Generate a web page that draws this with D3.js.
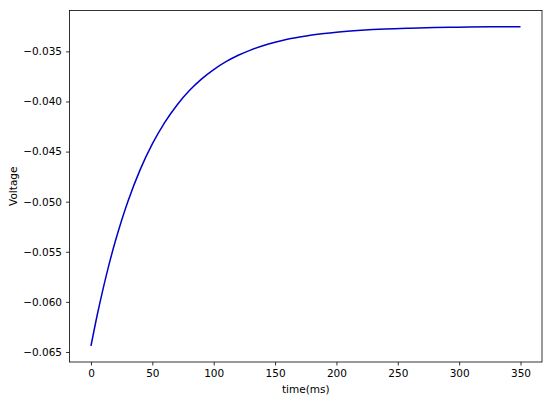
<!DOCTYPE html>
<html>
<head>
<meta charset="utf-8">
<script src="https://cdn.jsdelivr.net/npm/d3@7"></script>
<style>
  body { margin: 0; background: #fff; }
  text { font-family: "DejaVu Sans", sans-serif; fill: #000; }
</style>
</head>
<body>
<script>
// time in ms
var times = [0, 5, 10, 15, 20, 25, 30, 40, 50, 60, 70, 80, 90, 100, 110, 120,
    130, 140, 150, 160, 170, 180, 190, 200, 220, 240, 260, 280, 300, 325, 350]
var voltage = [-0.0644, -0.06136, -0.05862, -0.05613, -0.05388, -0.05185, -0.05001,
    -0.04683, -0.04424, -0.04211, -0.04037, -0.03894, -0.03777, -0.03682, -0.03603,
    -0.03539, -0.03487, -0.03444, -0.03409, -0.0338, -0.03357, -0.03337, -0.03321,
    -0.03308, -0.03289, -0.03276, -0.03268, -0.03262, -0.03258, -0.03255, -0.03253]
var xTicks = [0, 50, 100, 150, 200, 250, 300, 350]
var yTicks = [-0.065, -0.060, -0.055, -0.050, -0.045, -0.040, -0.035]

var width = 550, height = 400
var plotLeft = 69.5, plotRight = 542, plotTop = 10.5, plotBottom = 362

var points = times.map(function (t, i) { return {t: t, v: voltage[i]} })

var x = d3.scaleLinear().domain([-17.5, 367.5]).range([plotLeft, plotRight])
var y = d3.scaleLinear().domain([-0.066, -0.03092]).range([plotBottom, plotTop])

var svg = d3.select('body').append('svg')
    .attr('width', width)
    .attr('height', height)

var fmt = function (d) { return d3.format('.3f')(d).replace('-', '\u2212') }

var xAxis = svg.append('g')
    .attr('transform', 'translate(0,' + plotBottom + ')')
    .call(d3.axisBottom(x).tickValues(xTicks).tickSize(3.5).tickPadding(4).tickFormat(d3.format('d')))
var yAxis = svg.append('g')
    .attr('transform', 'translate(' + plotLeft + ',0)')
    .call(d3.axisLeft(y).tickValues(yTicks).tickSize(3.5).tickPadding(4).tickFormat(fmt))

;[xAxis, yAxis].forEach(function (g) {
    g.select('.domain').remove()
    g.selectAll('line').attr('stroke', '#000').attr('stroke-width', 0.8)
    g.selectAll('text').style('font-size', '10.5px').attr('fill', '#000')
})

svg.append('rect')
    .attr('x', plotLeft).attr('y', plotTop)
    .attr('width', plotRight - plotLeft).attr('height', plotBottom - plotTop)
    .attr('fill', 'none')
    .attr('stroke', '#000')
    .attr('stroke-width', 0.8)

var line = d3.line()
    .x(function (d) { return x(d.t) })
    .y(function (d) { return y(d.v) })
    .curve(d3.curveMonotoneX)

svg.append('path')
    .datum(points)
    .attr('d', line)
    .attr('fill', 'none')
    .attr('stroke', '#0000c8')
    .attr('stroke-width', 1.5)

svg.append('text')
    .attr('x', (plotLeft + plotRight) / 2)
    .attr('y', 393)
    .attr('text-anchor', 'middle')
    .style('font-size', '10.5px')
    .text('time(ms)')

svg.append('text')
    .attr('transform', 'translate(17,' + (plotTop + plotBottom) / 2 + ') rotate(-90)')
    .attr('text-anchor', 'middle')
    .style('font-size', '10.5px')
    .text('Voltage')
</script>
</body>
</html>
